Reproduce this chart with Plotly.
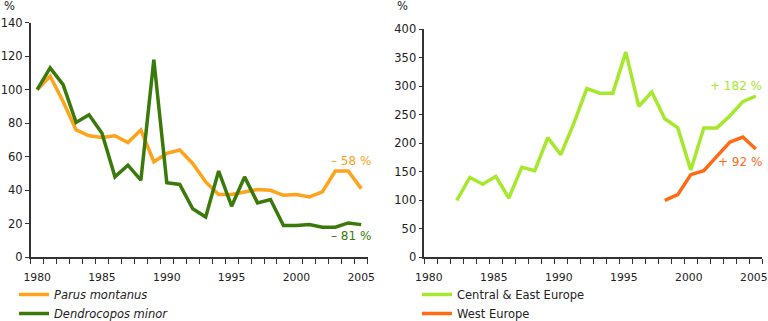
import plotly.graph_objects as go

years = list(range(1980, 2006))

parus_montanus = [100, 108, 93, 76, 72.5, 71.5, 72.5, 68.5, 76, 57, 62, 64, 56, 45, 37.5,
                  37.5, 39, 40.5, 40, 37, 37.5, 36, 39, 51.5, 51.5, 41]
dendrocopos_minor = [100, 113, 103, 80.5, 85, 74, 48, 55, 46, 118, 44.5, 43.5, 29, 24, 51.5,
                     30.5, 48, 32.5, 34.5, 19, 19, 19.5, 18, 18, 20.5, 19.5]

ce_years = list(range(1982, 2006))
central_east = [100, 140, 128, 142, 104, 158, 152, 210, 180, 235, 296, 288, 288, 360, 265,
                290, 243, 227, 153, 227, 227, 248, 273, 283]
we_years = list(range(1998, 2006))
west_europe = [100, 110, 145, 152, 177, 202, 211, 190]

tick_years = [1980, 1985, 1990, 1995, 2000, 2005]

C_ORANGE = "#FFA31A"
C_DGREEN = "#3A7A0A"
C_LGREEN = "#A5E82C"
C_RED = "#FF6A12"
FONT = "DejaVu Sans"
AX = "#333333"
FS = 10.8
FSL = 11.5

W, H = 768, 321

def px_x(p):
    return p / W

def px_y(p):
    return 1 - p / H

fig = go.Figure()
fig.add_trace(go.Scatter(x=years, y=parus_montanus, mode="lines", name="<i>Parus montanus</i>",
                         line=dict(color=C_ORANGE, width=3.5), xaxis="x", yaxis="y", legend="legend"))
fig.add_trace(go.Scatter(x=years, y=dendrocopos_minor, mode="lines", name="<i>Dendrocopos minor</i>",
                         line=dict(color=C_DGREEN, width=3.5), xaxis="x", yaxis="y", legend="legend"))
fig.add_trace(go.Scatter(x=ce_years, y=central_east, mode="lines", name="Central & East Europe",
                         line=dict(color=C_LGREEN, width=3.5), xaxis="x2", yaxis="y2", legend="legend2"))
fig.add_trace(go.Scatter(x=we_years, y=west_europe, mode="lines", name="West Europe",
                         line=dict(color=C_RED, width=3.5), xaxis="x2", yaxis="y2", legend="legend2"))

def xaxis(domain, anchor, shift=0):
    return dict(domain=domain, anchor=anchor, range=[1979.5, 2005.5], tickvals=tick_years,
                ticks="", showgrid=False, zeroline=False, showline=True, linecolor=AX, linewidth=1.5,
                automargin=False, ticklabelstandoff=9, ticklabeloverflow="allow",
                ticklabelshift=shift,
                tickfont=dict(family=FONT, size=FS, color="#222"),
                minor=dict(tick0=1979.5, dtick=1, ticks="outside", ticklen=5, tickwidth=1.2,
                           tickcolor=AX, showgrid=False))

def yaxis(domain, anchor, rng, dt):
    return dict(domain=domain, anchor=anchor, range=rng, dtick=dt, ticks="outside", ticklen=4,
                tickwidth=1.2, tickcolor=AX, showgrid=False, zeroline=False, showline=True,
                automargin=False, ticklabeloverflow="allow",
                linecolor=AX, linewidth=1.5, tickfont=dict(family=FONT, size=FSL, color="#222"))

fig.update_layout(
    width=W, height=H, margin=dict(l=0, r=0, t=0, b=0, autoexpand=False),
    paper_bgcolor="white", plot_bgcolor="white",
    font=dict(family=FONT, size=FS, color="#222"),
    xaxis=xaxis([px_x(30.7), px_x(367.7)], "y"),
    yaxis=yaxis([px_y(257.3), px_y(22.7)], "x", [0, 140], 20),
    xaxis2=xaxis([px_x(424.3), px_x(762.3)], "y2", shift=-2),
    yaxis2=yaxis([px_y(257.3), px_y(29.3)], "x2", [0, 400], 50),
    legend=dict(x=px_x(14), y=px_y(280), xanchor="left", yanchor="top",
                font=dict(family=FONT, size=FSL, color="#222"), bgcolor="rgba(0,0,0,0)",
                tracegroupgap=0),
    legend2=dict(x=px_x(417), y=px_y(280), xanchor="left", yanchor="top",
                 font=dict(family=FONT, size=FSL, color="#222"), bgcolor="rgba(0,0,0,0)",
                 tracegroupgap=0),
    showlegend=True,
)

annots = [
    ("%", 2, 6, "left", "#222"),
    ("%", 395, 6, "left", "#222"),
    ("– 58 %", 351, 161, "center", C_ORANGE),
    ("– 81 %", 351, 236, "center", C_DGREEN),
    ("+ 182 %", 764, 86, "right", C_LGREEN),
    ("+ 92 %", 764, 162, "right", C_RED),
]
for text, x, y, xa, col in annots:
    fig.add_annotation(text=text, x=px_x(x), y=px_y(y), xref="paper", yref="paper",
                       xanchor=xa, yanchor="middle", showarrow=False,
                       font=dict(family=FONT, size=12 if text != "%" else FSL, color=col))

fig.write_html("out.html")
